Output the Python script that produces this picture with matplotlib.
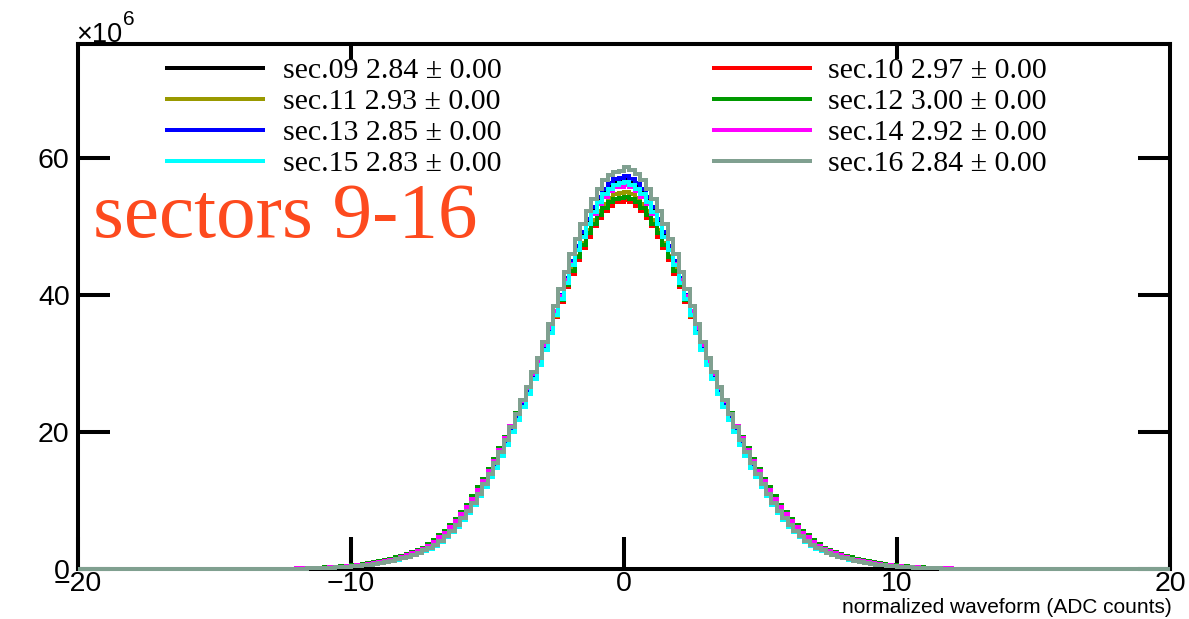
import numpy as np
import matplotlib
matplotlib.use("Agg")
import matplotlib.pyplot as plt
from matplotlib.lines import Line2D

# ---------------- data (bin contents in units of 1e6) ----------------
# 200 bins of width 0.2 from -20 to 20; bins outside [-12, 12] are empty.
x_range = (-20.0, 20.0)
n_bins = 200
data_range = (-12.0, 12.0)

sector_names = ["sec.09", "sec.10", "sec.11", "sec.12",
                "sec.13", "sec.14", "sec.15", "sec.16"]
sigmas = [2.84, 2.97, 2.93, 3.00, 2.85, 2.92, 2.83, 2.84]
sigma_errs = [0.00, 0.00, 0.00, 0.00, 0.00, 0.00, 0.00, 0.00]
colors = ["#000000", "#ff0000", "#999900", "#009900",
          "#0000ff", "#ff00ff", "#00ffff", "#80a090"]

sec09 = [0.06, 0.07, 0.09, 0.11, 0.13, 0.16, 0.18, 0.22, 0.26, 0.32, 0.38, 0.45, 0.53, 0.62, 0.73, 0.85, 0.97, 1.15, 1.35, 1.55, 1.75, 2.0, 2.3, 2.6, 2.9, 3.4, 4.0, 4.7, 5.4, 6.2, 7.2, 8.3, 9.4, 10.7, 12.1, 13.5, 15.0, 16.6, 18.3, 20.1, 22.0, 23.9, 25.9, 27.9, 30.0, 32.2, 34.7, 37.4, 39.8, 42.2, 44.6, 46.9, 48.9, 50.9, 52.5, 54.0, 55.2, 56.0, 56.6, 56.9] + \
        [57.0, 56.6, 56.0, 55.2, 54.0, 52.5, 50.9, 48.9, 46.9, 44.6, 42.2, 39.8, 37.4, 34.7, 32.2, 30.0, 27.9, 25.9, 23.9, 22.0, 20.1, 18.3, 16.6, 15.0, 13.5, 12.1, 10.7, 9.4, 8.3, 7.2, 6.2, 5.4, 4.7, 4.0, 3.4, 2.9, 2.6, 2.3, 2.0, 1.75, 1.55, 1.35, 1.15, 0.97, 0.85, 0.73, 0.62, 0.53, 0.45, 0.38, 0.32, 0.26, 0.22, 0.18, 0.16, 0.13, 0.11, 0.09, 0.07, 0.06]
sec10 = [0.10, 0.12, 0.14, 0.17, 0.20, 0.24, 0.28, 0.33, 0.39, 0.46, 0.53, 0.62, 0.72, 0.84, 0.97, 1.1, 1.3, 1.5, 1.7, 1.9, 2.2, 2.4, 2.7, 3.1, 3.6, 4.2, 4.9, 5.6, 6.4, 7.3, 8.3, 9.3, 10.5, 11.8, 13.1, 14.5, 15.9, 17.5, 19.1, 20.7, 22.5, 24.2, 26.1, 27.9, 29.8, 32.1, 34.4, 36.7, 38.9, 41.1, 43.1, 45.1, 46.9, 48.5, 50.0, 51.2, 52.2, 53.0, 53.5, 53.6] + \
        [53.8, 53.5, 53.0, 52.2, 51.2, 50.0, 48.5, 46.9, 45.1, 43.1, 41.1, 38.9, 36.7, 34.4, 32.1, 29.8, 27.9, 26.1, 24.2, 22.5, 20.7, 19.1, 17.5, 15.9, 14.5, 13.1, 11.8, 10.5, 9.3, 8.3, 7.3, 6.4, 5.6, 4.9, 4.2, 3.6, 3.1, 2.7, 2.4, 2.2, 1.9, 1.7, 1.5, 1.3, 1.1, 0.97, 0.84, 0.72, 0.62, 0.53, 0.46, 0.39, 0.33, 0.28, 0.24, 0.20, 0.17, 0.14, 0.12, 0.10]
sec11 = [0.08, 0.09, 0.11, 0.14, 0.17, 0.20, 0.24, 0.28, 0.33, 0.39, 0.46, 0.54, 0.64, 0.74, 0.86, 1.0, 1.15, 1.3, 1.5, 1.7, 2.0, 2.2, 2.5, 2.9, 3.3, 3.9, 4.5, 5.2, 6.0, 6.8, 7.8, 8.9, 10.0, 11.3, 12.7, 14.1, 15.5, 17.1, 18.7, 20.5, 22.2, 24.1, 25.9, 27.9, 29.8, 32.1, 34.5, 36.9, 39.2, 41.5, 43.7, 45.7, 47.6, 49.4, 50.9, 52.2, 53.3, 54.1, 54.7, 54.8] + \
        [55.0, 54.7, 54.1, 53.3, 52.2, 50.9, 49.4, 47.6, 45.7, 43.7, 41.5, 39.2, 36.9, 34.5, 32.1, 29.8, 27.9, 25.9, 24.1, 22.2, 20.5, 18.7, 17.1, 15.5, 14.1, 12.7, 11.3, 10.0, 8.9, 7.8, 6.8, 6.0, 5.2, 4.5, 3.9, 3.3, 2.9, 2.5, 2.2, 2.0, 1.7, 1.5, 1.3, 1.15, 1.0, 0.86, 0.74, 0.64, 0.54, 0.46, 0.39, 0.33, 0.28, 0.24, 0.20, 0.17, 0.14, 0.11, 0.09, 0.08]
sec12 = [0.10, 0.12, 0.14, 0.17, 0.20, 0.24, 0.28, 0.33, 0.39, 0.46, 0.54, 0.63, 0.73, 0.85, 0.98, 1.1, 1.3, 1.5, 1.7, 1.9, 2.2, 2.5, 2.8, 3.1, 3.7, 4.2, 4.9, 5.6, 6.4, 7.3, 8.3, 9.4, 10.6, 11.9, 13.2, 14.6, 16.1, 17.6, 19.2, 20.9, 22.7, 24.5, 26.3, 28.1, 30.1, 32.4, 34.7, 37.0, 39.3, 41.4, 43.5, 45.5, 47.3, 49.0, 50.4, 51.7, 52.7, 53.5, 54.0, 54.1] + \
        [54.3, 54.0, 53.5, 52.7, 51.7, 50.4, 49.0, 47.3, 45.5, 43.5, 41.4, 39.3, 37.0, 34.7, 32.4, 30.1, 28.1, 26.3, 24.5, 22.7, 20.9, 19.2, 17.6, 16.1, 14.6, 13.2, 11.9, 10.6, 9.4, 8.3, 7.3, 6.4, 5.6, 4.9, 4.2, 3.7, 3.1, 2.8, 2.5, 2.2, 1.9, 1.7, 1.5, 1.3, 1.1, 0.98, 0.85, 0.73, 0.63, 0.54, 0.46, 0.39, 0.33, 0.28, 0.24, 0.20, 0.17, 0.14, 0.12, 0.10]
sec13 = [0.06, 0.07, 0.09, 0.11, 0.13, 0.16, 0.19, 0.22, 0.26, 0.32, 0.38, 0.45, 0.53, 0.63, 0.73, 0.85, 0.98, 1.17, 1.37, 1.56, 1.76, 2.05, 2.35, 2.6, 2.9, 3.4, 4.0, 4.7, 5.5, 6.3, 7.2, 8.3, 9.5, 10.8, 12.1, 13.6, 15.1, 16.7, 18.4, 20.2, 22.1, 24.1, 26.0, 28.1, 30.1, 32.4, 34.9, 37.5, 40.0, 42.4, 44.9, 47.1, 49.2, 51.1, 52.8, 54.3, 55.4, 56.3, 56.9, 57.1] + \
        [57.3, 56.9, 56.3, 55.4, 54.3, 52.8, 51.1, 49.2, 47.1, 44.9, 42.4, 40.0, 37.5, 34.9, 32.4, 30.1, 28.1, 26.0, 24.1, 22.1, 20.2, 18.4, 16.7, 15.1, 13.6, 12.1, 10.8, 9.5, 8.3, 7.2, 6.3, 5.5, 4.7, 4.0, 3.4, 2.9, 2.6, 2.35, 2.05, 1.76, 1.56, 1.37, 1.17, 0.98, 0.85, 0.73, 0.63, 0.53, 0.45, 0.38, 0.32, 0.26, 0.22, 0.19, 0.16, 0.13, 0.11, 0.09, 0.07, 0.06]
sec14 = [0.08, 0.10, 0.12, 0.14, 0.17, 0.20, 0.24, 0.29, 0.34, 0.40, 0.47, 0.55, 0.65, 0.76, 0.88, 1.0, 1.2, 1.35, 1.5, 1.8, 2.0, 2.3, 2.6, 2.9, 3.4, 3.9, 4.6, 5.3, 6.1, 7.0, 8.0, 9.0, 10.2, 11.5, 12.9, 14.3, 15.8, 17.4, 19.1, 20.8, 22.6, 24.5, 26.4, 28.4, 30.3, 32.7, 35.1, 37.6, 39.9, 42.2, 44.5, 46.6, 48.5, 50.3, 51.8, 53.2, 54.3, 55.1, 55.7, 55.8] + \
        [56.0, 55.7, 55.1, 54.3, 53.2, 51.8, 50.3, 48.5, 46.6, 44.5, 42.2, 39.9, 37.6, 35.1, 32.7, 30.3, 28.4, 26.4, 24.5, 22.6, 20.8, 19.1, 17.4, 15.8, 14.3, 12.9, 11.5, 10.2, 9.0, 8.0, 7.0, 6.1, 5.3, 4.6, 3.9, 3.4, 2.9, 2.6, 2.3, 2.0, 1.8, 1.5, 1.35, 1.2, 1.0, 0.88, 0.76, 0.65, 0.55, 0.47, 0.40, 0.34, 0.29, 0.24, 0.20, 0.17, 0.14, 0.12, 0.10, 0.08]
sec15 = [0.06, 0.07, 0.09, 0.11, 0.13, 0.15, 0.18, 0.22, 0.26, 0.32, 0.38, 0.44, 0.52, 0.62, 0.72, 0.84, 0.96, 1.16, 1.35, 1.54, 1.74, 2.0, 2.3, 2.6, 2.9, 3.4, 4.0, 4.6, 5.4, 6.2, 7.1, 8.2, 9.4, 10.6, 12.0, 13.4, 14.8, 16.5, 18.1, 20.0, 21.8, 23.7, 25.6, 27.7, 29.7, 31.9, 34.4, 37.0, 39.4, 41.8, 44.3, 46.5, 48.5, 50.4, 52.1, 53.5, 54.7, 55.5, 56.1, 56.3] + \
        [56.5, 56.1, 55.5, 54.7, 53.5, 52.1, 50.4, 48.5, 46.5, 44.3, 41.8, 39.4, 37.0, 34.4, 31.9, 29.7, 27.7, 25.6, 23.7, 21.8, 20.0, 18.1, 16.5, 14.8, 13.4, 12.0, 10.6, 9.4, 8.2, 7.1, 6.2, 5.4, 4.6, 4.0, 3.4, 2.9, 2.6, 2.3, 2.0, 1.74, 1.54, 1.35, 1.16, 0.96, 0.84, 0.72, 0.62, 0.52, 0.44, 0.38, 0.32, 0.26, 0.22, 0.18, 0.15, 0.13, 0.11, 0.09, 0.07, 0.06]
sec16 = [0.06, 0.07, 0.09, 0.11, 0.13, 0.16, 0.19, 0.23, 0.27, 0.33, 0.39, 0.46, 0.54, 0.64, 0.75, 0.87, 1.0, 1.2, 1.4, 1.6, 1.8, 2.1, 2.4, 2.7, 3.0, 3.5, 4.1, 4.8, 5.6, 6.4, 7.4, 8.5, 9.7, 11.0, 12.4, 13.9, 15.4, 17.1, 18.8, 20.7, 22.6, 24.6, 26.6, 28.7, 30.8, 33.1, 35.7, 38.4, 40.9, 43.4, 45.9, 48.2, 50.3, 52.3, 54.0, 55.5, 56.7, 57.5, 57.9, 58.1] + \
        [58.6, 58.2, 57.6, 56.7, 55.5, 54.0, 52.3, 50.3, 48.2, 45.9, 43.4, 40.9, 38.4, 35.7, 33.1, 30.8, 28.7, 26.6, 24.6, 22.6, 20.7, 18.8, 17.1, 15.4, 13.9, 12.4, 11.0, 9.7, 8.5, 7.4, 6.4, 5.6, 4.8, 4.1, 3.5, 3.0, 2.7, 2.4, 2.1, 1.8, 1.6, 1.4, 1.2, 1.0, 0.87, 0.75, 0.64, 0.54, 0.46, 0.39, 0.33, 0.27, 0.23, 0.19, 0.16, 0.13, 0.11, 0.09, 0.07, 0.06]

sector_counts = [sec09, sec10, sec11, sec12, sec13, sec14, sec15, sec16]

x_ticks = [-20, -10, 0, 10, 20]
y_ticks = [0, 20, 40, 60]
y_max = 76.6
x_label = "normalized waveform (ADC counts)"
title_text = "sectors 9-16"

# ---------------- figure ----------------
W, H = 1189, 619
fig = plt.figure(figsize=(W / 100, H / 100), dpi=100)
ax_l, ax_r, ax_t, ax_b = 78, 1170, 44, 569
ax = fig.add_axes([ax_l / W, 1 - ax_b / H, (ax_r - ax_l) / W, (ax_b - ax_t) / H])

edges = np.linspace(x_range[0], x_range[1], n_bins + 1)
bw = (x_range[1] - x_range[0]) / n_bins
i0 = int(round((data_range[0] - x_range[0]) / bw))
i1 = int(round((data_range[1] - x_range[0]) / bw))

lw_px = 4.0
lw = lw_px * 72 / 100
for vals, col in zip(sector_counts, colors):
    full = np.zeros(n_bins)
    full[i0:i1] = vals
    ax.stairs(full, edges, color=col, lw=lw, baseline=None, clip_on=False,
              zorder=3)

ax.set_xlim(*x_range)
ax.set_ylim(0, y_max)

sans = "Liberation Sans"
serif = "Liberation Serif"
for s in ax.spines.values():
    s.set_linewidth(2.9)
    s.set_zorder(2)

ax.set_xticks(x_ticks)
ax.set_xticklabels([f"{t:d}".replace("-", "\u2212") for t in x_ticks],
                   family=sans, fontsize=20.5)
ax.set_yticks(y_ticks)
ax.set_yticklabels([f"{t:d}" for t in y_ticks], family=sans, fontsize=20.5)
ax.tick_params(axis="both", which="major", direction="in", length=23,
               width=2.9, left=True, right=True, bottom=True, top=False)
ax.tick_params(axis="y", pad=6)
ax.tick_params(axis="x", pad=1.5)
ax.minorticks_off()

sec_ax = ax.secondary_xaxis("top")
sec_ax.set_xticks([-10, 10])
sec_ax.tick_params(direction="in", length=11, width=2.9, labeltop=False)
sec_ax.spines["top"].set_linewidth(2.9)

# x axis title
fig.text(1172 / W, 1 - 613 / H, x_label, ha="right", va="baseline",
         family=sans, fontsize=15)
# exponent label
fig.text(76 / W, 1 - 42 / H, "\u00d710", ha="left", va="baseline",
         family=sans, fontsize=19.5)
fig.text(123 / W, 1 - 25 / H, "6", ha="left", va="baseline",
         family=sans, fontsize=15)

# big label
fig.text(93 / W, 1 - 237 / H, title_text, ha="left", va="baseline",
         family=serif, fontsize=57, color="#fd4a1e")

# legend (two columns)
left_col = [0, 2, 4, 6]
right_col = [1, 3, 5, 7]
rows_y = [68, 99, 130, 161]
for col_idx, (x0, x1, xt) in zip([left_col, right_col],
                                 [(167, 263, 283), (714, 810, 828)]):
    for r, k in enumerate(col_idx):
        y = 1 - rows_y[r] / H
        fig.add_artist(Line2D([x0 / W, x1 / W], [y, y], color=colors[k],
                              lw=lw, transform=fig.transFigure))
        fig.text(xt / W, y, f"{sector_names[k]} {sigmas[k]:.2f} \u00b1 {sigma_errs[k]:.2f}",
                 ha="left", va="center_baseline", family=serif, fontsize=21.5)

fig.savefig("out.png", dpi=100)
